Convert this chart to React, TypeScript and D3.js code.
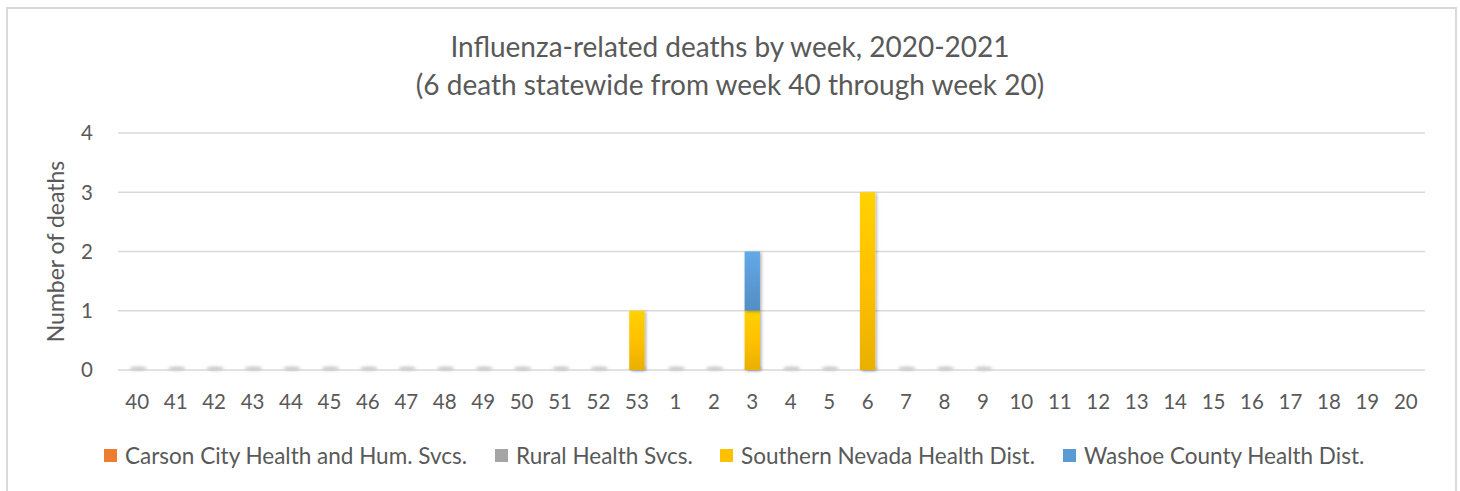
import * as d3 from "d3";
import React from "react";

const weeks = ["40", "41", "42", "43", "44", "45", "46", "47", "48", "49", "50", "51", "52", "53",
  "1", "2", "3", "4", "5", "6", "7", "8", "9", "10", "11", "12", "13", "14", "15", "16", "17", "18", "19", "20"];

const seriesNames = ["Carson City Health and Hum. Svcs.", "Rural Health Svcs.", "Southern Nevada Health Dist.", "Washoe County Health Dist."];
const seriesColors = ["#ed7d31", "#a5a5a5", "#ffc000", "#5b9bd5"];

// null = no data reported yet (weeks 10-20)
const carson = [0, 0, 0, 0, 0, 0, 0, 0, 0, 0, 0, 0, 0, 0, 0, 0, 0, 0, 0, 0, 0, 0, 0, null, null, null, null, null, null, null, null, null, null, null];
const rural = [0, 0, 0, 0, 0, 0, 0, 0, 0, 0, 0, 0, 0, 0, 0, 0, 0, 0, 0, 0, 0, 0, 0, null, null, null, null, null, null, null, null, null, null, null];
const southern = [0, 0, 0, 0, 0, 0, 0, 0, 0, 0, 0, 0, 0, 1, 0, 0, 1, 0, 0, 3, 0, 0, 0, null, null, null, null, null, null, null, null, null, null, null];
const washoe = [0, 0, 0, 0, 0, 0, 0, 0, 0, 0, 0, 0, 0, 0, 0, 0, 1, 0, 0, 0, 0, 0, 0, null, null, null, null, null, null, null, null, null, null, null];

const yTicks = [0, 1, 2, 3, 4];

const W = 1460;
const H = 491;
const margin = { left: 118, right: 35, top: 133, bottom: 121 };
const FONT = "Lato, 'Open Sans', sans-serif";
const TEXT = "#595959";

export default function App() {
  const rows = weeks.map((w, i) => ({
    week: w,
    has: southern[i] !== null,
    s0: carson[i] ?? 0,
    s1: rural[i] ?? 0,
    s2: southern[i] ?? 0,
    s3: washoe[i] ?? 0,
  }));
  const keys = ["s0", "s1", "s2", "s3"];
  const stacked = d3.stack<any>().keys(keys)(rows);

  const x = d3.scaleBand().domain(weeks).range([margin.left, W - margin.right]).paddingInner(0.6).paddingOuter(0.3);
  const y = d3.scaleLinear().domain([0, 4]).range([H - margin.bottom, margin.top]);
  const bw = x.bandwidth();

  // legend item positions (square x)
  const legendX = [104, 495, 720, 1063];

  return (
    <svg width={W} height={H} style={{ position: "absolute", left: 0, top: 0, background: "#fff" }}>
      <defs>
        <filter id="shadow" x="-50%" y="-10%" width="200%" height="130%">
          <feDropShadow dx="1.5" dy="1" stdDeviation="1.5" floodColor="#000" floodOpacity="0.3" />
        </filter>
        <filter id="blur" x="-50%" y="-200%" width="200%" height="500%">
          <feGaussianBlur stdDeviation="1.5" />
        </filter>
        {seriesColors.map((c, i) => {
          const base = d3.color(c)!;
          return (
            <linearGradient key={i} id={`g${i}`} x1="0" y1="0" x2="0" y2="1">
              <stop offset="0" stopColor={d3.color(c)!.brighter(0.25).formatHex()} />
              <stop offset="0.5" stopColor={base.formatHex()} />
              <stop offset="1" stopColor={d3.color(c)!.darker(0.25).formatHex()} />
            </linearGradient>
          );
        })}
      </defs>

      <rect x={7} y={8} width={1449} height={H} fill="#fff" stroke="#d9d9d9" strokeWidth={2} />

      <text x={730} y={57} textAnchor="middle" fontFamily={FONT} fontSize={28} fill={TEXT}>
        Influenza-related deaths by week, 2020-2021
      </text>
      <text x={730} y={95} textAnchor="middle" fontFamily={FONT} fontSize={28} fill={TEXT}>
        (6 death statewide from week 40 through week 20)
      </text>

      {yTicks.map((t) => (
        <g key={t}>
          <line x1={margin.left} x2={W - margin.right} y1={y(t)} y2={y(t)} stroke="#d9d9d9" strokeWidth={1.5} />
          <text x={93} y={y(t)} dy="0.36em" textAnchor="end" fontFamily={FONT} fontSize={20.5} fill={TEXT}>
            {t}
          </text>
        </g>
      ))}

      <text transform={`translate(64,${(y(0) + y(4)) / 2}) rotate(-90)`} textAnchor="middle" fontFamily={FONT} fontSize={23} fill={TEXT}>
        Number of deaths
      </text>

      {/* zero-height bars leave a faint shadow on the axis */}
      {rows.filter((r) => r.has).map((r) => (
        <ellipse key={r.week} cx={x(r.week)! + bw / 2 + 1} cy={y(0) - 1.5} rx={bw / 2 + 1} ry={2} fill="#c8c8c8" filter="url(#blur)" />
      ))}

      {stacked.map((layer, si) => (
        <g key={si}>
          {layer.map((d, i) =>
            d[1] - d[0] > 0 ? (
              <rect key={i} x={x(weeks[i])} y={y(d[1])} width={bw} height={y(d[0]) - y(d[1])} fill={`url(#g${si})`} filter="url(#shadow)" />
            ) : null
          )}
        </g>
      ))}

      {weeks.map((w) => (
        <text key={w} x={x(w)! + bw / 2} y={409} textAnchor="middle" fontFamily={FONT} fontSize={20.5} fill={TEXT}>
          {w}
        </text>
      ))}

      {seriesNames.map((n, i) => (
        <g key={n}>
          <rect x={legendX[i]} y={449} width={13} height={13} fill={seriesColors[i]} />
          <text x={legendX[i] + 21} y={464} fontFamily={FONT} fontSize={22.5} fill={TEXT}>
            {n}
          </text>
        </g>
      ))}
    </svg>
  );
}
